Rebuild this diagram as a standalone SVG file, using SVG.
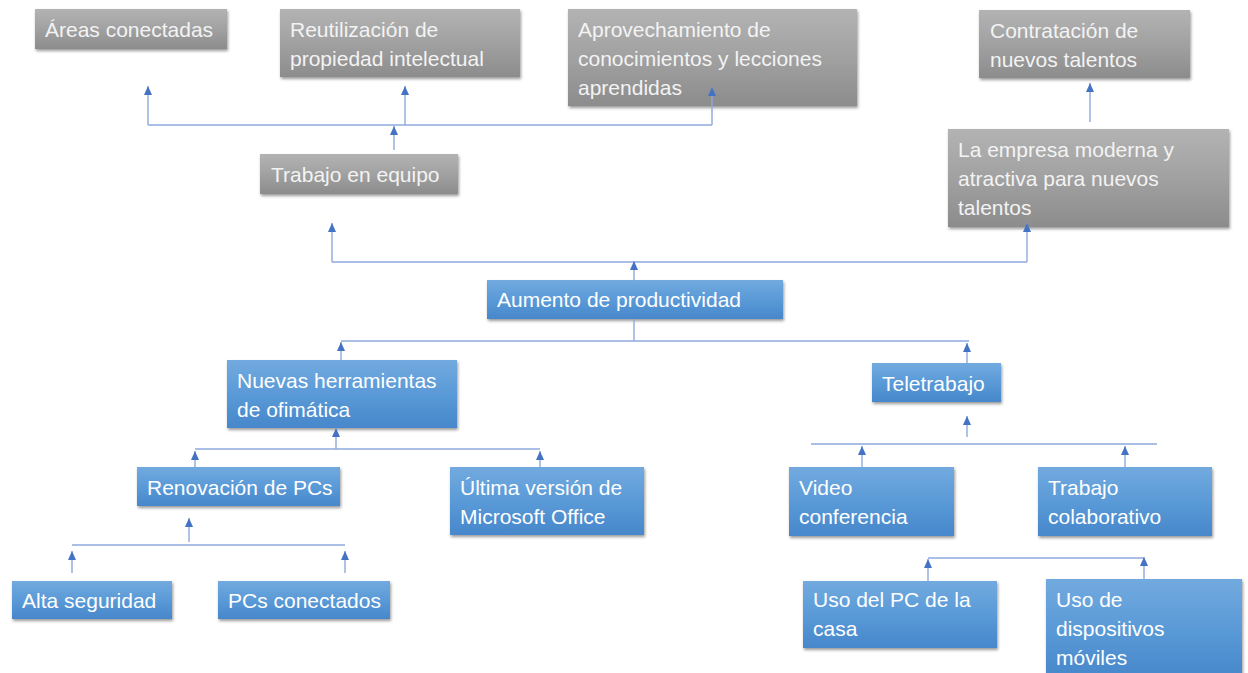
<svg xmlns="http://www.w3.org/2000/svg" width="1248" height="673" viewBox="0 0 1248 673">
  <style>
    .lbl { font-family: "Liberation Sans", Arial, sans-serif; font-size: 21px; }
    .gray rect { fill: url(#gGray); filter: url(#shadow); }
    .blue rect { fill: url(#gBlue); filter: url(#shadow); }
    .gray text { fill: #f3f3f3; }
    .blue text { fill: #ffffff; }
    .conn path { fill: none; stroke: #8eaadc; stroke-width: 1.4; }
    .conn path.arr { marker-end: url(#head); }
  </style>
  <defs>
    <linearGradient id="gGray" x1="0" y1="0" x2="0" y2="1">
      <stop offset="0" stop-color="#b3b3b3"/>
      <stop offset="0.5" stop-color="#a1a1a1"/>
      <stop offset="1" stop-color="#8c8c8c"/>
    </linearGradient>
    <linearGradient id="gBlue" x1="0" y1="0" x2="0" y2="1">
      <stop offset="0" stop-color="#72aadf"/>
      <stop offset="0.5" stop-color="#5a9ad7"/>
      <stop offset="1" stop-color="#4787cb"/>
    </linearGradient>
    <filter id="shadow" x="-5%" y="-10%" width="115%" height="130%">
      <feDropShadow dx="1" dy="2" stdDeviation="1.5" flood-color="#000" flood-opacity="0.4"/>
    </filter>
    <!-- small filled triangle, tip placed on the end of the line -->
    <marker id="head" markerUnits="userSpaceOnUse" markerWidth="9" markerHeight="8" viewBox="0 0 9 8" refX="9" refY="4" orient="auto">
      <path d="M0,0 L9,4 L0,8 Z" fill="#4472c4"/>
    </marker>
  </defs>

  <!-- upper level: grey results -->
  <g id="n-areas" class="gray">
    <rect x="35" y="9" width="192" height="40"/>
    <text class="lbl" x="45" y="37">Áreas conectadas</text>
  </g>
  <g id="n-reutilizacion" class="gray">
    <rect x="280" y="9" width="240" height="68"/>
    <text class="lbl" x="290" y="37">Reutilización de</text>
    <text class="lbl" x="290" y="66">propiedad intelectual</text>
  </g>
  <g id="n-aprovechamiento" class="gray">
    <rect x="568" y="9" width="289" height="97"/>
    <text class="lbl" x="578" y="37">Aprovechamiento de</text>
    <text class="lbl" x="578" y="66">conocimientos y lecciones</text>
    <text class="lbl" x="578" y="95">aprendidas</text>
  </g>
  <g id="n-contratacion" class="gray">
    <rect x="979" y="10" width="211" height="68"/>
    <text class="lbl" x="990" y="38">Contratación de</text>
    <text class="lbl" x="990" y="67">nuevos talentos</text>
  </g>
  <g id="n-empresa" class="gray">
    <rect x="948" y="129" width="281" height="98"/>
    <text class="lbl" x="958" y="157">La empresa moderna y</text>
    <text class="lbl" x="958" y="186">atractiva para nuevos</text>
    <text class="lbl" x="958" y="215">talentos</text>
  </g>
  <g id="n-equipo" class="gray">
    <rect x="260" y="154" width="198" height="40"/>
    <text class="lbl" x="271" y="182">Trabajo en equipo</text>
  </g>

  <!-- centre and lower levels: blue causes -->
  <g id="n-aumento" class="blue">
    <rect x="487" y="280" width="296" height="39"/>
    <text class="lbl" x="497" y="307">Aumento de productividad</text>
  </g>
  <g id="n-herramientas" class="blue">
    <rect x="227" y="360" width="230" height="68"/>
    <text class="lbl" x="237" y="388">Nuevas herramientas</text>
    <text class="lbl" x="237" y="417">de ofimática</text>
  </g>
  <g id="n-teletrabajo" class="blue">
    <rect x="872" y="363" width="129" height="39"/>
    <text class="lbl" x="882" y="391">Teletrabajo</text>
  </g>
  <g id="n-renovacion" class="blue">
    <rect x="137" y="467" width="203" height="39"/>
    <text class="lbl" x="147" y="495">Renovación de PCs</text>
  </g>
  <g id="n-office" class="blue">
    <rect x="450" y="467" width="194" height="68"/>
    <text class="lbl" x="460" y="495">Última versión de</text>
    <text class="lbl" x="460" y="524">Microsoft Office</text>
  </g>
  <g id="n-video" class="blue">
    <rect x="789" y="467" width="165" height="69"/>
    <text class="lbl" x="799" y="495">Video</text>
    <text class="lbl" x="799" y="524">conferencia</text>
  </g>
  <g id="n-colaborativo" class="blue">
    <rect x="1038" y="467" width="174" height="69"/>
    <text class="lbl" x="1048" y="495">Trabajo</text>
    <text class="lbl" x="1048" y="524">colaborativo</text>
  </g>
  <g id="n-seguridad" class="blue">
    <rect x="12" y="581" width="160" height="38"/>
    <text class="lbl" x="22" y="608">Alta seguridad</text>
  </g>
  <g id="n-pcs" class="blue">
    <rect x="218" y="581" width="172" height="38"/>
    <text class="lbl" x="228" y="608">PCs conectados</text>
  </g>
  <g id="n-pccasa" class="blue">
    <rect x="803" y="581" width="194" height="67"/>
    <text class="lbl" x="813" y="607">Uso del PC de la</text>
    <text class="lbl" x="813" y="636">casa</text>
  </g>
  <g id="n-moviles" class="blue">
    <rect x="1046" y="579" width="196" height="100"/>
    <text class="lbl" x="1056" y="607">Uso de</text>
    <text class="lbl" x="1056" y="636">dispositivos</text>
    <text class="lbl" x="1056" y="665">móviles</text>
  </g>

  <!-- connectors -->
  <g id="connectors" class="conn">
    <path d="M148,125 H712"/>
    <path class="arr" d="M148,125 V86"/>
    <path class="arr" d="M405,125 V86"/>
    <path class="arr" d="M712,125 V87"/>
    <path class="arr" d="M394,150 V126"/>
    <path class="arr" d="M1090,122 V83"/>

    <path d="M332,262 H1027"/>
    <path class="arr" d="M332,262 V223"/>
    <path class="arr" d="M1027,262 V223"/>
    <path class="arr" d="M634,281 V261"/>

    <path d="M634,319 V341"/>
    <path d="M341,341 H969"/>
    <path class="arr" d="M341,360 V342"/>
    <path class="arr" d="M967,363 V343"/>

    <path class="arr" d="M967,437 V416"/>
    <path d="M811,444 H1157"/>
    <path class="arr" d="M862,467 V446"/>
    <path class="arr" d="M1125,467 V446"/>

    <path class="arr" d="M336,449 V428"/>
    <path d="M195,449 H540"/>
    <path class="arr" d="M195,467 V451"/>
    <path class="arr" d="M540,467 V451"/>

    <path class="arr" d="M189,542 V518"/>
    <path d="M72,545 H345"/>
    <path class="arr" d="M72,573 V551"/>
    <path class="arr" d="M345,573 V551"/>

    <path d="M928,558 H1144"/>
    <path class="arr" d="M928,581 V559"/>
    <path class="arr" d="M1144,579 V557"/>
  </g>
</svg>
